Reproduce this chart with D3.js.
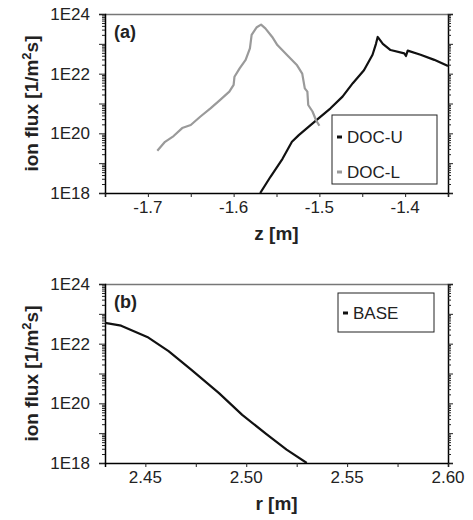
<!DOCTYPE html>
<html>
<head>
<meta charset="utf-8">
<script src="https://cdn.jsdelivr.net/npm/d3@7"></script>
<style>
  body { margin: 0; background: #fff; }
  svg text { font-family: "Liberation Sans", Arial, Helvetica, sans-serif; }
</style>
</head>
<body>
<div id="chart"></div>
<script>
// panel (a): DOC-U / DOC-L ion flux vs z
var docUZ = [-1.569, -1.557, -1.543, -1.532, -1.524, -1.512, -1.502, -1.487, -1.473, -1.461, -1.448,
             -1.438, -1.434, -1.432, -1.426, -1.417, -1.401, -1.399, -1.397, -1.382, -1.366, -1.350];
var docUFlux = [1.0e18, 3.5e18, 1.4e19, 5.2e19, 8.7e19, 1.7e20, 3.0e20, 6.9e20, 1.7e21, 4.8e21, 1.3e22,
                4.3e22, 1.0e23, 1.7e23, 1.0e23, 6.2e22, 4.8e22, 3.9e22, 5.9e22, 4.3e22, 2.9e22, 1.8e22];
var docLZ = [-1.689, -1.680, -1.670, -1.660, -1.650, -1.639, -1.627, -1.616, -1.605, -1.600, -1.599,
             -1.593, -1.586, -1.581, -1.579, -1.573, -1.568, -1.563, -1.555, -1.549, -1.538, -1.526,
             -1.520, -1.517, -1.514, -1.513, -1.508, -1.504, -1.500];
var docLFlux = [2.6e19, 5.2e19, 8.1e19, 1.5e20, 1.9e20, 3.6e20, 6.9e20, 1.3e21, 2.5e21, 4.2e21, 7.9e21,
                1.5e22, 2.9e22, 7.1e22, 2.0e23, 3.6e23, 4.4e23, 3.3e23, 1.7e23, 9.1e22, 4.3e22, 1.9e22,
                1.0e22, 3.2e21, 2.5e21, 8.9e20, 5.4e20, 2.8e20, 1.8e20];
// panel (b): BASE ion flux vs r
var baseR = [2.430, 2.438, 2.4515, 2.4615, 2.473, 2.4865, 2.498, 2.510, 2.520, 2.530];
var baseFlux = [5.0e22, 4.0e22, 1.6e22, 5.6e21, 1.3e21, 2.2e20, 4.1e19, 9.3e18, 2.8e18, 1.0e18];

var yTickValues = [1e18, 1e20, 1e22, 1e24];
var zTicksMajor = [-1.7, -1.6, -1.5, -1.4];
var rTicksMajor = [2.45, 2.50, 2.55, 2.60];

var W = 473, H = 520;
var svg = d3.select('#chart').append('svg')
    .attr('width', W).attr('height', H);

function logLabel(d){
    return '1E' + Math.round(Math.log10(d));
}

function drawPanel(opt){
    var left = 105, right = 448;
    var top = opt.top, bottom = opt.top + 179;
    var x = d3.scaleLinear().domain(opt.xDomain).range([left, right]);
    var y = d3.scaleLog().domain([1e18, 1e24]).range([bottom, top]);

    var g = svg.append('g');
    var clipId = 'clip-' + opt.name;
    svg.append('clipPath').attr('id', clipId).append('rect')
        .attr('x', left).attr('y', top).attr('width', right - left).attr('height', bottom - top);

    // frame: top line grey
    g.append('line').attr('x1', left).attr('x2', right).attr('y1', top + 0.5).attr('y2', top + 0.5)
        .attr('stroke', '#777').attr('stroke-width', 1.5);

    // minor log ticks list
    var minor = [];
    for (var e = 18; e < 24; e++) for (var m = 2; m < 10; m++) minor.push(m * Math.pow(10, e));

    // left axis
    var yl = g.append('g').attr('transform', 'translate(' + left + ',0)');
    yl.call(d3.axisLeft(y).tickValues(d3.range(18, 25).map(function(e){ return Math.pow(10, e); }))
        .tickSize(6).tickFormat(''));
    yl.append('g').call(d3.axisLeft(y).tickValues(minor).tickSize(3).tickFormat(''))
        .select('.domain').remove();
    yl.selectAll('line').attr('stroke', '#222');
    yl.selectAll('.domain').attr('stroke', '#000').attr('stroke-width', 1.5);
    yTickValues.forEach(function(v){
        g.append('text').attr('x', 90).attr('y', y(v)).attr('dy', '0.36em')
            .attr('text-anchor', 'end').attr('font-size', 17).attr('fill', '#222')
            .text(logLabel(v));
    });

    // right axis
    var yr = g.append('g').attr('transform', 'translate(' + right + ',0)');
    yr.call(d3.axisRight(y).tickValues(d3.range(18, 25).map(function(e){ return Math.pow(10, e); }))
        .tickSize(5).tickFormat(''));
    yr.append('g').call(d3.axisRight(y).tickValues(minor).tickSize(3).tickFormat(''))
        .select('.domain').remove();
    yr.selectAll('line').attr('stroke', '#222');
    yr.selectAll('.domain').attr('stroke', '#000').attr('stroke-width', 1.5);

    // bottom axis
    var xb = g.append('g').attr('transform', 'translate(0,' + bottom + ')');
    xb.call(d3.axisBottom(x).tickValues(opt.xTicksAll).tickSize(4).tickFormat(''));
    xb.selectAll('line').attr('stroke', '#222');
    xb.select('.domain').attr('stroke', '#000').attr('stroke-width', 1.5);
    opt.xTicks.forEach(function(v){
        g.append('text').attr('x', x(v)).attr('y', bottom + 20)
            .attr('text-anchor', 'middle').attr('font-size', 17).attr('fill', '#222')
            .text(opt.fmt(v));
    });

    // axis titles
    g.append('text').attr('x', (left + right) / 2).attr('y', bottom + 47)
        .attr('text-anchor', 'middle').attr('font-size', 19).attr('font-weight', 'bold')
        .attr('fill', '#222').text(opt.xLabel);
    var yt = g.append('text')
        .attr('transform', 'translate(38,' + ((top + bottom) / 2) + ') rotate(-90)')
        .attr('text-anchor', 'middle').attr('font-size', 19).attr('font-weight', 'bold').attr('fill', '#222');
    yt.append('tspan').text('ion flux [1/m');
    yt.append('tspan').attr('font-size', 13).attr('dy', -7).text('2');
    yt.append('tspan').attr('dy', 7).text('s]');

    // panel tag
    g.append('text').attr('x', 114).attr('y', top + 24).attr('font-size', 18)
        .attr('font-weight', 'bold').attr('fill', '#222').text(opt.tag);

    // curves
    var line = d3.line().x(function(d){ return x(d[0]); }).y(function(d){ return y(d[1]); });
    opt.series.forEach(function(s){
        g.append('path').datum(d3.zip(s.xs, s.ys))
            .attr('clip-path', 'url(#' + clipId + ')')
            .attr('fill', 'none').attr('stroke', s.color).attr('stroke-width', 2.2)
            .attr('stroke-linejoin', 'round').attr('d', line);
    });

    // legend
    var lg = g.append('g').attr('transform', 'translate(' + opt.legend.x + ',' + opt.legend.y + ')');
    lg.append('rect').attr('width', opt.legend.w).attr('height', opt.legend.h)
        .attr('fill', '#fff').attr('stroke', '#222').attr('stroke-width', 1);
    opt.series.forEach(function(s, i){
        var cy = opt.legend.first + i * opt.legend.step;
        lg.append('line').attr('x1', 5).attr('x2', 10).attr('y1', cy).attr('y2', cy)
            .attr('stroke', s.color).attr('stroke-width', 3);
        lg.append('text').attr('x', 15).attr('y', cy).attr('dy', '0.36em')
            .attr('font-size', 17).attr('fill', '#222').text(s.name);
    });
}

drawPanel({
    name: 'a', top: 14, tag: '(a)',
    xDomain: [-1.75, -1.35],
    xTicks: zTicksMajor,
    xTicksAll: d3.range(-1.75, -1.349, 0.05),
    fmt: function(v){ return d3.format('.1f')(v).replace('−', '-'); },
    xLabel: 'z [m]',
    series: [
        {name: 'DOC-U', xs: docUZ, ys: docUFlux, color: '#111'},
        {name: 'DOC-L', xs: docLZ, ys: docLFlux, color: '#9a9a9a'}
    ],
    legend: {x: 332, y: 115, w: 105, h: 69, first: 22, step: 35}
});

drawPanel({
    name: 'b', top: 284, tag: '(b)',
    xDomain: [2.43, 2.60],
    xTicks: rTicksMajor,
    xTicksAll: [2.45, 2.475, 2.50, 2.525, 2.55, 2.575, 2.60],
    fmt: d3.format('.2f'),
    xLabel: 'r [m]',
    series: [
        {name: 'BASE', xs: baseR, ys: baseFlux, color: '#111'}
    ],
    legend: {x: 338, y: 293, w: 96, h: 39, first: 20, step: 0}
});
</script>
</body>
</html>
